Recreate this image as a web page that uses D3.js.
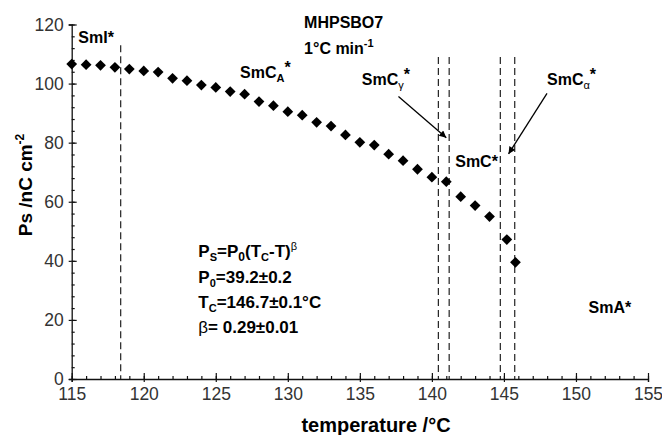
<!DOCTYPE html>
<html>
<head>
<meta charset="utf-8">
<script src="https://cdn.jsdelivr.net/npm/d3@7"></script>
<style>
  body { margin: 0; background: #fff; }
  text { font-family: "Liberation Sans", Arial, sans-serif; }
</style>
</head>
<body>
<div id="chart"></div>
<script>
let w = 662;
let h = 435;

// data
let temps = [115, 116, 117, 118, 119, 120, 121, 122, 123, 124, 125, 126, 127, 128, 129, 130,
  131, 132, 133, 134, 135, 136, 137, 138, 139, 140, 141, 142, 143, 144, 145.2, 145.8];
let ps = [106.6, 106.4, 106.2, 105.5, 104.9, 104.3, 103.9, 101.8, 101.0, 99.5, 98.7, 97.3, 96.4, 93.9, 92.5, 90.5,
  89.3, 86.9, 85.6, 82.6, 80.1, 79.2, 76.1, 73.9, 71.0, 68.3, 66.8, 61.7, 58.7, 55.0, 47.2, 39.5];

// phase transitions (dashed lines)
let transitions = [118.4, 140.45, 141.2, 144.75, 145.75];
let transitionTops = [113, 109, 109, 109, 109];

let xTicks = [115, 120, 125, 130, 135, 140, 145, 150, 155];
let yTicks = [0, 20, 40, 60, 80, 100, 120];

let svg = d3.select("#chart")
  .append("svg")
  .attr("width", w)
  .attr("height", h);

let xScale = d3.scaleLinear().domain([115, 155]).range([71.7, 648]);
let yScale = d3.scaleLinear().domain([0, 120]).range([379, 24.5]);

// --- axes
let minorX = d3.range(115, 156, 1);
let minorY = d3.range(0, 121, 4);

svg.append("g")
  .attr("transform", "translate(0,379)")
  .call(d3.axisBottom(xScale).tickValues(minorX).tickSize(-3).tickFormat(""))
  .call(g => g.select(".domain").remove());

svg.append("g")
  .attr("transform", "translate(0,379)")
  .call(d3.axisBottom(xScale).tickValues(xTicks).tickSize(-6).tickFormat(""))
  .call(g => g.select(".domain").remove());

let xAxis = svg.append("g")
  .attr("transform", "translate(0,379)")
  .call(d3.axisBottom(xScale).tickValues(xTicks).tickSizeOuter(0).tickSize(3).tickPadding(6));

svg.append("g")
  .attr("transform", "translate(71.7,0)")
  .call(d3.axisLeft(yScale).tickValues(minorY).tickSize(-3).tickFormat(""))
  .call(g => g.select(".domain").remove());

svg.append("g")
  .attr("transform", "translate(71.7,0)")
  .call(d3.axisLeft(yScale).tickValues(yTicks).tickSize(-5).tickFormat(""))
  .call(g => g.select(".domain").remove());

let yAxis = svg.append("g")
  .attr("transform", "translate(71.7,0)")
  .call(d3.axisLeft(yScale).tickValues(yTicks).tickSizeOuter(0).tickSize(3).tickPadding(5));

svg.selectAll(".tick line").attr("stroke", "#111").attr("stroke-width", 1.2);
svg.selectAll(".domain").attr("stroke", "#111").attr("stroke-width", 1.3);
svg.selectAll(".tick text")
  .attr("font-size", 17.5)
  .attr("fill", "#333")
  .style("font-family", "'Liberation Sans', Arial, sans-serif");

// axis titles
let yTitle = svg.append("text")
  .attr("transform", "translate(32,185) rotate(-90)")
  .attr("text-anchor", "middle")
  .attr("font-size", 19)
  .attr("font-weight", "bold");
yTitle.append("tspan").text("Ps /nC cm");
yTitle.append("tspan").attr("font-size", 12).attr("dy", -8).text("-2");

svg.append("text")
  .attr("x", 376)
  .attr("y", 432)
  .attr("text-anchor", "middle")
  .attr("font-size", 20)
  .attr("font-weight", "bold")
  .text("temperature /°C");

// --- dashed transition lines
svg.selectAll(".trans").data(transitions).enter()
  .append("line")
  .attr("class", "trans")
  .attr("x1", d => xScale(d))
  .attr("x2", d => xScale(d))
  .attr("y1", (d, i) => yScale(transitionTops[i]))
  .attr("y2", yScale(0))
  .attr("stroke", "#222")
  .attr("stroke-width", 1.2)
  .attr("stroke-dasharray", "7,4");

// --- data points (diamonds)
let points = temps.map((t, i) => ({ t: t, p: ps[i] }));
let diamond = d3.symbol().type(d3.symbolSquare).size(58);

svg.selectAll(".datapoint").data(points).enter()
  .append("path")
  .attr("class", "datapoint")
  .attr("d", diamond)
  .attr("transform", d => "translate(" + xScale(d.t) + "," + yScale(d.p) + ") rotate(45)")
  .attr("fill", "#000");

// --- arrows
svg.append("defs").append("marker")
  .attr("id", "head")
  .attr("viewBox", "0 0 10 10")
  .attr("refX", 10)
  .attr("refY", 5)
  .attr("markerWidth", 9)
  .attr("markerHeight", 7)
  .attr("markerUnits", "userSpaceOnUse")
  .attr("orient", "auto")
  .append("path")
  .attr("d", "M0,0 L10,5 L0,10 Z")
  .attr("fill", "#000");

let arrows = [
  { t1: 137.68, p1: 95.6, t2: 141.0, p2: 81.7 },
  { t1: 147.99, p1: 96.7, t2: 145.32, p2: 76.2 }
];
svg.selectAll(".arrow").data(arrows).enter()
  .append("line")
  .attr("class", "arrow")
  .attr("x1", d => xScale(d.t1))
  .attr("y1", d => yScale(d.p1))
  .attr("x2", d => xScale(d.t2))
  .attr("y2", d => yScale(d.p2))
  .attr("stroke", "#000")
  .attr("stroke-width", 1.3)
  .attr("marker-end", "url(#head)");

// --- labels
function label(t, p, size) {
  return svg.append("text")
    .attr("x", xScale(t))
    .attr("y", yScale(p))
    .attr("font-size", size || 16)
    .attr("font-weight", "bold");
}
function sub(el, s, greek) {
  el.append("tspan").attr("dy", 4).attr("font-size", 11)
    .attr("font-weight", greek ? "normal" : "bold").text(s);
  return el.append("tspan").attr("dy", -4);
}
function sup(el, s, greek) {
  el.append("tspan").attr("dy", -7).attr("font-size", 11)
    .attr("font-weight", greek ? "normal" : "bold").text(s);
  return el.append("tspan").attr("dy", 7);
}

label(115.46, 113.6).text("SmI*");
label(131.13, 118.7).text("MHPSBO7");
let rate = label(131.13, 110.0);
rate.append("tspan").text("1°C min");
sup(rate, "-1");

let smca = label(126.69, 101.8);
smca.append("tspan").text("SmC");
sub(smca, "A").text("");
smca.append("tspan").attr("dy", -9).text("*");

let smcg = label(135.14, 99.5);
smcg.append("tspan").text("SmC");
sub(smcg, "γ", true).text("");
smcg.append("tspan").attr("dy", -9).text("*");

let smcal = label(147.99, 99.5);
smcal.append("tspan").text("SmC");
sub(smcal, "α", true).text("");
smcal.append("tspan").attr("dy", -9).text("*");

label(141.62, 71.9).text("SmC*");
label(150.87, 22.3).text("SmA*");

// formula block
let f1 = label(123.79, 41.3, 17);
f1.append("tspan").text("P");
sub(f1, "S").text("=P");
f1.append("tspan").attr("dy", 4).attr("font-size", 12).text("0");
f1.append("tspan").attr("dy", -4).text("(T");
sub(f1, "C").text("-T)");
sup(f1, "β", true);

let f2 = label(123.79, 32.5, 17);
f2.append("tspan").text("P");
sub(f2, "0").text("=39.2±0.2");

let f3 = label(123.79, 24.0, 17);
f3.append("tspan").text("T");
sub(f3, "C").text("=146.7±0.1°C");

let f4 = label(123.79, 15.6, 17);
f4.append("tspan").attr("font-weight", "normal").text("β");
f4.append("tspan").text("= 0.29±0.01");
</script>
</body>
</html>
